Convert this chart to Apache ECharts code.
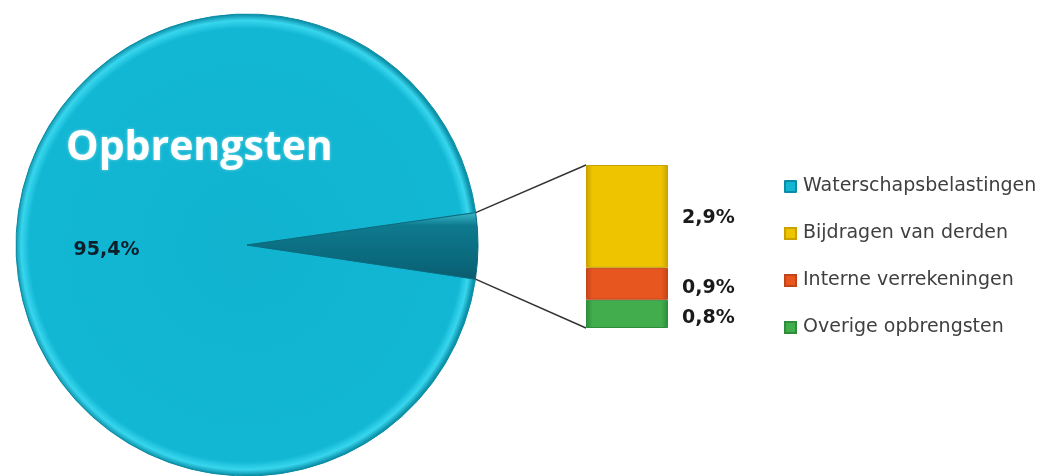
<!DOCTYPE html>
<html>
<head>
<meta charset="utf-8">
<script src="https://cdn.jsdelivr.net/npm/echarts@6/dist/echarts.min.js"></script>
<style>
  html, body { margin: 0; padding: 0; background: #fff; }
  #main { width: 1054px; height: 476px; }
</style>
</head>
<body>
<div id="main"></div>
<script>
// data
const pieNames = ['Waterschapsbelastingen', 'Overig'];
const pieValues = [95.4, 4.6];
const barNames = ['Bijdragen van derden', 'Interne verrekeningen', 'Overige opbrengsten'];
const barValues = [2.9, 0.9, 0.8];
const legendNames = ['Waterschapsbelastingen', 'Bijdragen van derden', 'Interne verrekeningen', 'Overige opbrengsten'];

// kleuren
const pieColor = '#12b6d3';
const barColors = ['#eec400', '#e8561f', '#41ad4c'];
const barBorders = ['#c9a200', '#c4441a', '#2e8c3a'];

// layout
const cx = 247, cy = 245, radius = 231;
const startAngle = -8.5;
const gridLeft = 586, gridTop = 165, gridWidth = 82, gridHeight = 163;

const fmt = v => String(v).replace('.', ',') + '%';

const chart = echarts.init(document.getElementById('main'));

function barGradient(c, b) {
    return new echarts.graphic.LinearGradient(0, 0, 1, 0, [
        { offset: 0, color: b },
        { offset: 0.08, color: c },
        { offset: 0.92, color: c },
        { offset: 1, color: b }
    ]);
}

// stack: onderste eerst
const barSeries = [];
for (let i = barNames.length - 1; i >= 0; i--) {
    barSeries.push({
        type: 'bar',
        name: barNames[i],
        stack: 'rest',
        barWidth: '100%',
        data: [barValues[i]],
        itemStyle: {
            color: barGradient(barColors[i], barBorders[i]),
            borderColor: barBorders[i],
            borderWidth: 1
        },
        label: {
            show: true,
            position: 'right',
            distance: 14,
            offset: [0, i === 0 ? 2 : 4],
            formatter: p => fmt(p.value),
            fontFamily: 'DejaVu Sans',
            fontWeight: 'bold',
            fontSize: 19,
            color: '#1a1a1a'
        }
    });
}

const option = {
    backgroundColor: '#ffffff',
    animation: false,
    title: {
        text: 'Opbrengsten',
        left: 66,
        top: 128,
        padding: 0,
        textStyle: {
            fontFamily: 'Open Sans',
            fontWeight: 'bold',
            fontSize: 41,
            color: '#ffffff',
            textShadowColor: 'rgba(255,255,255,0.5)',
            textShadowBlur: 3
        }
    },
    legend: {
        orient: 'vertical',
        left: 784,
        top: 177,
        padding: 0,
        itemWidth: 11,
        itemHeight: 11,
        itemGap: 28,
        icon: 'rect',
        selectedMode: false,
        data: legendNames.map((n, i) => ({
            name: n,
            itemStyle: { color: i === 0 ? pieColor : barColors[i - 1] }
        })),
        textStyle: {
            fontFamily: 'DejaVu Sans',
            fontSize: 19,
            lineHeight: 18,
            color: '#404040',
            padding: [0, 0, 0, 2]
        }
    },
    grid: { left: gridLeft, top: gridTop, width: gridWidth, height: gridHeight },
    xAxis: { type: 'category', data: ['rest'], show: false },
    yAxis: { type: 'value', min: 0, max: pieValues[1], show: false },
    series: [
        {
            type: 'pie',
            center: [cx, cy],
            radius: radius,
            startAngle: startAngle,
            clockwise: true,
            silent: true,
            labelLayout: { dx: -11, dy: 3 },
            data: [
                {
                    name: pieNames[0],
                    value: pieValues[0],
                    itemStyle: {
                        color: new echarts.graphic.RadialGradient(0.5, 0.5, 0.5, [
                            { offset: 0, color: '#11b3cf' },
                            { offset: 0.94, color: '#12b7d4' },
                            { offset: 0.975, color: '#38d6ee' },
                            { offset: 1, color: '#0c93ab' }
                        ]),
                        borderColor: '#0a8ca3',
                        borderWidth: 1
                    },
                    label: {
                        show: true,
                        position: 'inside',
                        formatter: p => fmt(p.value),
                        fontFamily: 'DejaVu Sans',
                        fontWeight: 'bold',
                        fontSize: 19,
                        color: '#0d1f2a'
                    }
                },
                {
                    name: pieNames[1],
                    value: pieValues[1],
                    itemStyle: {
                        color: new echarts.graphic.LinearGradient(0, 0, 0, 1, [
                            { offset: 0, color: '#3bb9cc' },
                            { offset: 0.2, color: '#0e7a8e' },
                            { offset: 0.8, color: '#0a667a' },
                            { offset: 1, color: '#0a5a6b' }
                        ]),
                        borderColor: '#0a6a7d',
                        borderWidth: 1
                    },
                    label: { show: false }
                }
            ]
        },
        ...barSeries
    ]
};

chart.setOption(option);

// verbindingslijnen van het kleine segment naar de staaf
const rad = Math.PI / 180;
const total = pieValues.reduce((a, b) => a + b, 0);
const restSpan = pieValues[1] / total * 360;
const lowAng = startAngle;
const upAng = startAngle + restSpan;
const upPt = [cx + radius * Math.cos(upAng * rad), cy - radius * Math.sin(upAng * rad)];
const lowPt = [cx + radius * Math.cos(lowAng * rad), cy - radius * Math.sin(lowAng * rad)];
const barTop = chart.convertToPixel({ gridIndex: 0 }, [0, pieValues[1]]);
const barBot = chart.convertToPixel({ gridIndex: 0 }, [0, 0]);
const barLeftX = barTop[0] - gridWidth / 2;

chart.setOption({
    graphic: [
        {
            type: 'line',
            shape: { x1: upPt[0], y1: upPt[1], x2: barLeftX, y2: barTop[1] },
            style: { stroke: '#333', lineWidth: 1.5 }
        },
        {
            type: 'line',
            shape: { x1: lowPt[0], y1: lowPt[1], x2: barLeftX, y2: barBot[1] },
            style: { stroke: '#333', lineWidth: 1.5 }
        }
    ]
});
</script>
</body>
</html>
